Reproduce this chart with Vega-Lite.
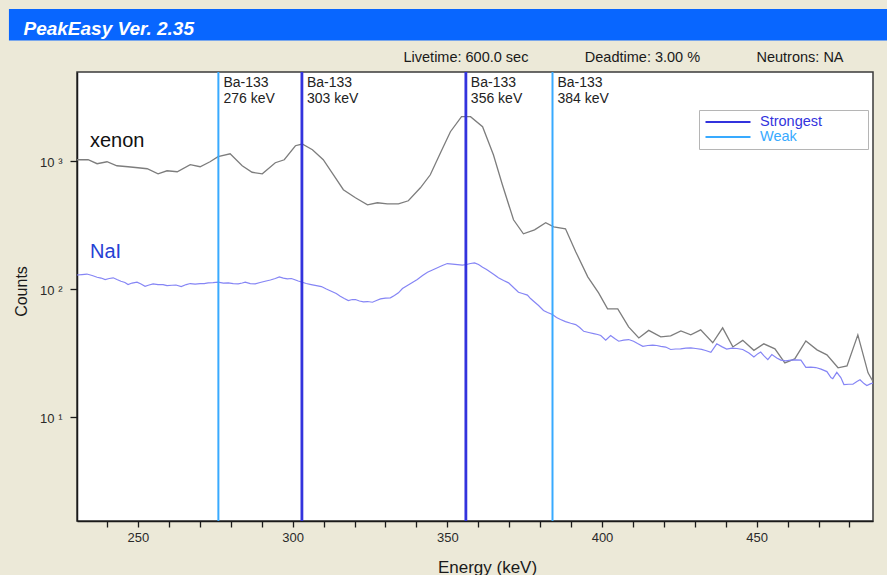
{
  "$schema": "https://vega.github.io/schema/vega-lite/v6.json",
  "width": 796,
  "height": 449,
  "autosize": "none",
  "padding": {"left": 77, "top": 72, "right": 14, "bottom": 54},
  "background": "#ECE9D8",
  "config": {
    "font": "Liberation Sans",
    "view": {"fill": "white", "stroke": "#3a3a3a", "strokeWidth": 1.5},
    "axis": {
      "grid": false,
      "domainColor": "#1a1a1a",
      "domainWidth": 1.5,
      "tickColor": "#1a1a1a",
      "tickWidth": 1.3,
      "labelColor": "#2a2a2a",
      "labelFont": "Liberation Sans",
      "titleFont": "Liberation Sans",
      "titleFontWeight": "normal",
      "titleColor": "#1a1a1a"
    }
  },
  "datasets": {
    "xenon": [
      {"energy": 230.3, "counts": 1018}, {"energy": 233.9, "counts": 1018}, {"energy": 236.8, "counts": 948},
      {"energy": 240.0, "counts": 982}, {"energy": 243.2, "counts": 914}, {"energy": 246.8, "counts": 898},
      {"energy": 250.0, "counts": 882}, {"energy": 253.0, "counts": 866}, {"energy": 256.5, "counts": 791},
      {"energy": 259.4, "counts": 835}, {"energy": 262.7, "counts": 821}, {"energy": 266.9, "counts": 931},
      {"energy": 270.1, "counts": 898}, {"energy": 273.3, "counts": 982}, {"energy": 275.9, "counts": 1075},
      {"energy": 279.8, "counts": 1134}, {"energy": 283.7, "counts": 914}, {"energy": 286.9, "counts": 813},
      {"energy": 290.2, "counts": 791}, {"energy": 294.4, "counts": 965}, {"energy": 297.3, "counts": 1018},
      {"energy": 300.9, "counts": 1310}, {"energy": 303.1, "counts": 1351}, {"energy": 306.4, "counts": 1219},
      {"energy": 309.9, "counts": 1018}, {"energy": 313.2, "counts": 777}, {"energy": 316.4, "counts": 594},
      {"energy": 320.3, "counts": 514}, {"energy": 324.2, "counts": 453}, {"energy": 327.4, "counts": 470},
      {"energy": 330.6, "counts": 461}, {"energy": 334.2, "counts": 461}, {"energy": 337.4, "counts": 487},
      {"energy": 341.3, "counts": 615}, {"energy": 344.5, "counts": 777}, {"energy": 347.8, "counts": 1155},
      {"energy": 351.0, "counts": 1685}, {"energy": 354.6, "counts": 2207}, {"energy": 357.5, "counts": 2207},
      {"energy": 361.4, "counts": 1843}, {"energy": 364.9, "counts": 1114}, {"energy": 367.8, "counts": 649},
      {"energy": 371.4, "counts": 346}, {"energy": 374.6, "counts": 269}, {"energy": 378.2, "counts": 289},
      {"energy": 381.8, "counts": 328}, {"energy": 384.4, "counts": 305}, {"energy": 388.2, "counts": 294},
      {"energy": 391.5, "counts": 195}, {"energy": 395.4, "counts": 124}, {"energy": 398.9, "counts": 93.1},
      {"energy": 401.8, "counts": 69.8}, {"energy": 405.1, "counts": 69.8}, {"energy": 408.6, "counts": 50.5},
      {"energy": 411.9, "counts": 41.4}, {"energy": 415.1, "counts": 47.4}, {"energy": 419.0, "counts": 42.2},
      {"energy": 422.2, "counts": 42.9}, {"energy": 425.5, "counts": 47.0}, {"energy": 428.7, "counts": 43.7},
      {"energy": 431.9, "counts": 47.8}, {"energy": 435.8, "counts": 37.9}, {"energy": 439.0, "counts": 49.6},
      {"energy": 442.3, "counts": 35.2}, {"energy": 445.5, "counts": 39.6}, {"energy": 449.1, "counts": 33.1},
      {"energy": 452.3, "counts": 37.2}, {"energy": 455.9, "counts": 34.0}, {"energy": 459.1, "counts": 26.4},
      {"energy": 462.3, "counts": 28.4}, {"energy": 465.9, "counts": 39.2}, {"energy": 469.5, "counts": 33.4},
      {"energy": 472.7, "counts": 30.5}, {"energy": 476.3, "counts": 24.2}, {"energy": 479.2, "counts": 25.0},
      {"energy": 482.7, "counts": 43.7}, {"energy": 486.0, "counts": 22.1}, {"energy": 487.6, "counts": 18.9}
    ],
    "nai": [
      {"energy": 230.3, "counts": 128.2}, {"energy": 231.9, "counts": 129.3}, {"energy": 233.5, "counts": 130.5},
      {"energy": 235.2, "counts": 127.0}, {"energy": 236.8, "counts": 123.2}, {"energy": 238.1, "counts": 121.4},
      {"energy": 239.4, "counts": 118.2}, {"energy": 240.7, "counts": 120.4}, {"energy": 242.0, "counts": 121.9},
      {"energy": 243.2, "counts": 118.2}, {"energy": 244.5, "counts": 114.7}, {"energy": 245.8, "counts": 112.0},
      {"energy": 246.8, "counts": 108.0}, {"energy": 248.1, "counts": 111.0}, {"energy": 249.7, "counts": 112.6},
      {"energy": 251.0, "counts": 109.0}, {"energy": 252.3, "counts": 104.8}, {"energy": 253.6, "counts": 107.1},
      {"energy": 254.9, "counts": 109.4}, {"energy": 256.5, "counts": 108.0}, {"energy": 258.1, "counts": 108.0},
      {"energy": 259.4, "counts": 106.1}, {"energy": 261.0, "counts": 106.7}, {"energy": 262.3, "counts": 107.1},
      {"energy": 264.0, "counts": 104.2}, {"energy": 265.6, "counts": 108.0}, {"energy": 266.9, "counts": 110.0},
      {"energy": 268.5, "counts": 109.0}, {"energy": 270.1, "counts": 110.0}, {"energy": 271.4, "counts": 110.0},
      {"energy": 272.7, "counts": 111.4}, {"energy": 274.3, "counts": 112.0}, {"energy": 275.9, "counts": 113.0},
      {"energy": 277.6, "counts": 111.0}, {"energy": 279.2, "counts": 111.4}, {"energy": 280.8, "counts": 110.0},
      {"energy": 282.4, "counts": 109.4}, {"energy": 283.7, "counts": 111.0}, {"energy": 284.7, "counts": 112.6},
      {"energy": 286.3, "counts": 110.0}, {"energy": 287.9, "counts": 109.4}, {"energy": 289.5, "counts": 112.0},
      {"energy": 291.1, "counts": 114.7}, {"energy": 292.8, "counts": 117.2}, {"energy": 294.4, "counts": 120.4},
      {"energy": 295.7, "counts": 124.1}, {"energy": 297.0, "counts": 121.4}, {"energy": 298.3, "counts": 119.7},
      {"energy": 299.6, "counts": 120.4}, {"energy": 300.5, "counts": 118.2}, {"energy": 301.8, "counts": 115.1},
      {"energy": 303.1, "counts": 112.6}, {"energy": 304.4, "counts": 110.0}, {"energy": 306.0, "counts": 108.0},
      {"energy": 307.7, "counts": 106.1}, {"energy": 309.3, "counts": 104.2}, {"energy": 310.9, "counts": 99.6},
      {"energy": 312.5, "counts": 95.8}, {"energy": 314.1, "counts": 91.9}, {"energy": 315.4, "counts": 87.5},
      {"energy": 316.7, "counts": 84.0}, {"energy": 318.0, "counts": 81.0}, {"energy": 319.3, "counts": 82.5},
      {"energy": 320.3, "counts": 82.5}, {"energy": 321.6, "counts": 80.3}, {"energy": 322.9, "counts": 79.2},
      {"energy": 324.2, "counts": 79.6}, {"energy": 325.8, "counts": 78.6}, {"energy": 327.1, "counts": 81.0},
      {"energy": 328.4, "counts": 83.5}, {"energy": 330.0, "counts": 84.7}, {"energy": 331.6, "counts": 85.1},
      {"energy": 332.9, "counts": 88.6}, {"energy": 334.2, "counts": 93.1}, {"energy": 335.5, "counts": 100.5},
      {"energy": 337.1, "counts": 106.1}, {"energy": 338.7, "counts": 112.0}, {"energy": 340.3, "counts": 118.2},
      {"energy": 342.0, "counts": 127.0}, {"energy": 343.6, "counts": 134.8}, {"energy": 345.2, "counts": 140.2},
      {"energy": 346.8, "counts": 145.9}, {"energy": 348.4, "counts": 152.1}, {"energy": 350.0, "counts": 157.6},
      {"energy": 351.7, "counts": 156.2}, {"energy": 353.3, "counts": 154.8}, {"energy": 354.9, "counts": 153.4},
      {"energy": 356.2, "counts": 154.8}, {"energy": 357.5, "counts": 157.6}, {"energy": 358.8, "counts": 159.6},
      {"energy": 360.1, "counts": 154.8}, {"energy": 361.4, "counts": 147.5}, {"energy": 362.7, "counts": 141.5},
      {"energy": 364.0, "counts": 134.8}, {"energy": 365.3, "counts": 128.2}, {"energy": 366.5, "counts": 121.9},
      {"energy": 368.2, "counts": 116.1}, {"energy": 369.8, "counts": 111.4}, {"energy": 371.4, "counts": 102.4},
      {"energy": 373.0, "counts": 94.1}, {"energy": 374.3, "counts": 91.9}, {"energy": 375.9, "counts": 89.4},
      {"energy": 376.9, "counts": 84.0}, {"energy": 377.9, "counts": 80.0}, {"energy": 379.5, "counts": 74.1},
      {"energy": 381.1, "counts": 67.7}, {"energy": 382.4, "counts": 65.3}, {"energy": 384.0, "counts": 63.0},
      {"energy": 385.3, "counts": 59.7}, {"energy": 386.6, "counts": 57.6}, {"energy": 388.2, "counts": 55.5},
      {"energy": 389.9, "counts": 53.9}, {"energy": 391.5, "counts": 52.6}, {"energy": 392.8, "counts": 49.9},
      {"energy": 394.1, "counts": 46.6}, {"energy": 395.7, "counts": 45.6}, {"energy": 397.3, "counts": 44.7},
      {"energy": 398.6, "counts": 44.0}, {"energy": 399.6, "counts": 43.2}, {"energy": 401.2, "counts": 39.7},
      {"energy": 402.8, "counts": 43.2}, {"energy": 404.1, "counts": 40.9}, {"energy": 405.4, "counts": 39.0},
      {"energy": 407.0, "counts": 39.8}, {"energy": 408.6, "counts": 40.2}, {"energy": 410.2, "counts": 39.0},
      {"energy": 411.5, "counts": 37.4}, {"energy": 413.2, "counts": 35.6}, {"energy": 414.8, "counts": 36.1},
      {"energy": 416.4, "counts": 36.4}, {"energy": 417.7, "counts": 36.1}, {"energy": 419.0, "counts": 35.6},
      {"energy": 420.6, "counts": 35.1}, {"energy": 422.2, "counts": 33.6}, {"energy": 423.8, "counts": 33.9},
      {"energy": 425.4, "counts": 34.0}, {"energy": 427.1, "counts": 34.5}, {"energy": 428.7, "counts": 34.6},
      {"energy": 430.3, "counts": 34.2}, {"energy": 432.2, "counts": 33.7}, {"energy": 433.5, "counts": 33.0},
      {"energy": 435.2, "counts": 32.0}, {"energy": 437.1, "counts": 37.2}, {"energy": 438.7, "counts": 35.4},
      {"energy": 440.3, "counts": 33.9}, {"energy": 442.0, "counts": 34.5}, {"energy": 443.6, "counts": 34.2},
      {"energy": 445.5, "counts": 33.6}, {"energy": 447.5, "counts": 31.5}, {"energy": 449.1, "counts": 29.4},
      {"energy": 450.4, "counts": 31.2}, {"energy": 451.3, "counts": 32.1}, {"energy": 452.3, "counts": 30.1},
      {"energy": 453.6, "counts": 28.0}, {"energy": 454.9, "counts": 30.7}, {"energy": 456.5, "counts": 28.8},
      {"energy": 457.8, "counts": 27.8}, {"energy": 459.4, "counts": 27.4}, {"energy": 461.0, "counts": 27.8},
      {"energy": 462.7, "counts": 27.9}, {"energy": 464.3, "counts": 27.8}, {"energy": 465.9, "counts": 24.4},
      {"energy": 467.5, "counts": 24.5}, {"energy": 469.1, "counts": 24.3}, {"energy": 470.8, "counts": 23.6},
      {"energy": 472.7, "counts": 22.6}, {"energy": 474.0, "counts": 20.3}, {"energy": 474.6, "counts": 19.9},
      {"energy": 475.9, "counts": 22.3}, {"energy": 477.2, "counts": 20.3}, {"energy": 478.2, "counts": 17.9},
      {"energy": 479.8, "counts": 18.0}, {"energy": 481.1, "counts": 18.0}, {"energy": 482.4, "counts": 18.9},
      {"energy": 483.4, "counts": 19.5}, {"energy": 484.7, "counts": 18.2}, {"energy": 485.6, "counts": 17.6},
      {"energy": 486.9, "counts": 18.2}, {"energy": 487.6, "counts": 18.4}
    ],
    "lines": [
      {"energy": 276, "strength": "Weak", "label": "Ba-133\n276 keV"},
      {"energy": 303, "strength": "Strongest", "label": "Ba-133\n303 keV"},
      {"energy": 356, "strength": "Strongest", "label": "Ba-133\n356 keV"},
      {"energy": 384, "strength": "Weak", "label": "Ba-133\n384 keV"}
    ],
    "names": [
      {"name": "xenon", "energy": 234.5, "counts": 1280},
      {"name": "NaI", "energy": 234.5, "counts": 174}
    ]
  },
  "layer": [
    {
      "data": {"values": [{}]},
      "mark": {"type": "rect", "color": "#0866ff", "clip": false},
      "encoding": {
        "x": {"datum": 208.3, "type": "quantitative", "axis": null},
        "x2": {"datum": 495},
        "y": {"datum": 15300, "type": "quantitative", "axis": null},
        "y2": {"datum": 8700}
      }
    },
    {
      "data": {"name": "xenon"},
      "mark": {"type": "line", "color": "#7d7d7d", "strokeWidth": 1.3, "clip": true},
      "encoding": {
        "x": {
          "field": "energy", "type": "quantitative",
          "scale": {"domain": [230.3, 487.6], "nice": false, "zero": false},
          "axis": {
            "orient": "bottom",
            "values": [240, 250, 260, 270, 280, 290, 300, 310, 320, 330, 340, 350, 360, 370, 380, 390, 400, 410, 420, 430, 440, 450, 460, 470, 480],
            "labelExpr": "datum.value % 50 === 0 ? datum.label : ''",
            "labelOverlap": false,
            "labelFlush": false,
            "tickSize": 6,
            "labelPadding": 14,
            "labelBaseline": "alphabetic",
            "labelFontSize": 13,
            "title": "Energy (keV)",
            "titleFontSize": 17,
            "titleX": 410,
            "titleY": 51,
            "titleAlign": "center",
            "titleBaseline": "alphabetic",
            "titleAngle": 0
          }
        },
        "y": {
          "field": "counts", "type": "quantitative",
          "scale": {"type": "log", "domain": [1.54, 4930], "nice": false},
          "axis": {
            "orient": "left",
            "values": [10, 100, 1000],
            "labelExpr": "datum.value == 10 ? '10 \u00b9' : datum.value == 100 ? '10 \u00b2' : '10 \u00b3'",
            "labelOverlap": false,
            "labelFlush": false,
            "tickSize": 7,
            "labelPadding": 8,
            "labelFontSize": 13,
            "labelBaseline": "alphabetic",
            "labelOffset": 6,
            "title": "Counts",
            "titleFontSize": 16,
            "titleX": -51,
            "titleY": 219,
            "titleAlign": "center",
            "titleBaseline": "alphabetic",
            "titleAngle": -90
          }
        }
      }
    },
    {
      "data": {"name": "nai"},
      "mark": {"type": "line", "color": "#8585f5", "strokeWidth": 1.2, "clip": true},
      "encoding": {
        "x": {"field": "energy", "type": "quantitative", "axis": null},
        "y": {"field": "counts", "type": "quantitative", "axis": null}
      }
    },
    {
      "data": {"name": "lines"},
      "transform": [{"filter": "datum.strength === 'Strongest'"}],
      "mark": {"type": "rule", "strokeWidth": 2.8},
      "encoding": {
        "x": {
          "field": "energy", "type": "quantitative",
          "axis": {
            "orient": "top",
            "labels": false,
            "ticks": false,
            "domain": false,
            "title": "PeakEasy Ver. 2.35",
            "titleX": -54,
            "titleY": -38,
            "titleAlign": "left",
            "titleBaseline": "alphabetic",
            "titleAngle": 0,
            "titleColor": "white",
            "titleFontSize": 19,
            "titleFontStyle": "italic",
            "titleFontWeight": "bold",
            "titleLimit": 1000,
            "zindex": 2
          }
        },
        "color": {
          "field": "strength", "type": "nominal",
          "scale": {"domain": ["Strongest", "Weak"], "range": ["#3333dd", "#38aaff"]},
          "legend": {
            "title": null,
            "orient": "none",
            "legendX": 622,
            "legendY": 38,
            "padding": 5,
            "strokeColor": "#b5b5b5",
            "fillColor": "white",
            "symbolType": "stroke",
            "symbolSize": 2025,
            "symbolStrokeWidth": 2.2,
            "clipHeight": 14,
            "rowPadding": 0,
            "labelOffset": 8,
            "labelFontSize": 14.5,
            "labelFont": "Liberation Sans",
            "labelLimit": 300,
            "labelExpr": "datum.label + '\u00a0\u00a0\u00a0\u00a0\u00a0\u00a0\u00a0\u00a0\u00a0\u00a0\u200b'",
            "encode": {
              "labels": {
                "update": {
                  "fill": {"signal": "datum.value === 'Strongest' ? '#3333dd' : '#38aaff'"}
                }
              }
            }
          }
        }
      }
    },
    {
      "data": {"name": "lines"},
      "transform": [{"filter": "datum.strength === 'Weak'"}],
      "mark": {"type": "rule", "strokeWidth": 2},
      "encoding": {
        "x": {"field": "energy", "type": "quantitative", "axis": null},
        "color": {"field": "strength", "type": "nominal"}
      }
    },
    {
      "data": {"name": "lines"},
      "mark": {"type": "text", "align": "left", "baseline": "alphabetic", "dx": 5, "dy": 15, "fontSize": 14, "lineBreak": "\n", "lineHeight": 15.5, "color": "#222222"},
      "encoding": {
        "x": {"field": "energy", "type": "quantitative", "axis": null},
        "y": {"datum": 4930, "type": "quantitative", "axis": null},
        "text": {"field": "label"}
      }
    },
    {
      "data": {"name": "names"},
      "mark": {"type": "text", "align": "left", "baseline": "alphabetic", "fontSize": 20},
      "encoding": {
        "x": {"field": "energy", "type": "quantitative", "axis": null},
        "y": {
          "field": "counts", "type": "quantitative",
          "axis": {
            "orient": "right",
            "labels": false,
            "ticks": false,
            "domain": false,
            "grid": false,
            "title": "Livetime: 600.0 sec\u00a0\u00a0\u00a0\u00a0\u00a0\u00a0\u00a0\u00a0\u00a0\u00a0\u00a0\u00a0\u00a0\u00a0Deadtime: 3.00 %\u00a0\u00a0\u00a0\u00a0\u00a0\u00a0\u00a0\u00a0\u00a0\u00a0\u00a0\u00a0\u00a0\u00a0Neutrons: NA",
            "titleX": -470,
            "titleY": -11,
            "titleAngle": 0,
            "titleAlign": "left",
            "titleBaseline": "alphabetic",
            "titleFontSize": 14.5,
            "titleLimit": 1000,
            "zindex": 1
          }
        },
        "text": {"field": "name"},
        "color": {"condition": {"test": "datum.name === 'NaI'", "value": "#2541d4"}, "value": "#111111"}
      }
    }
  ],
  "resolve": {"axis": {"x": "independent", "y": "independent"}}
}
